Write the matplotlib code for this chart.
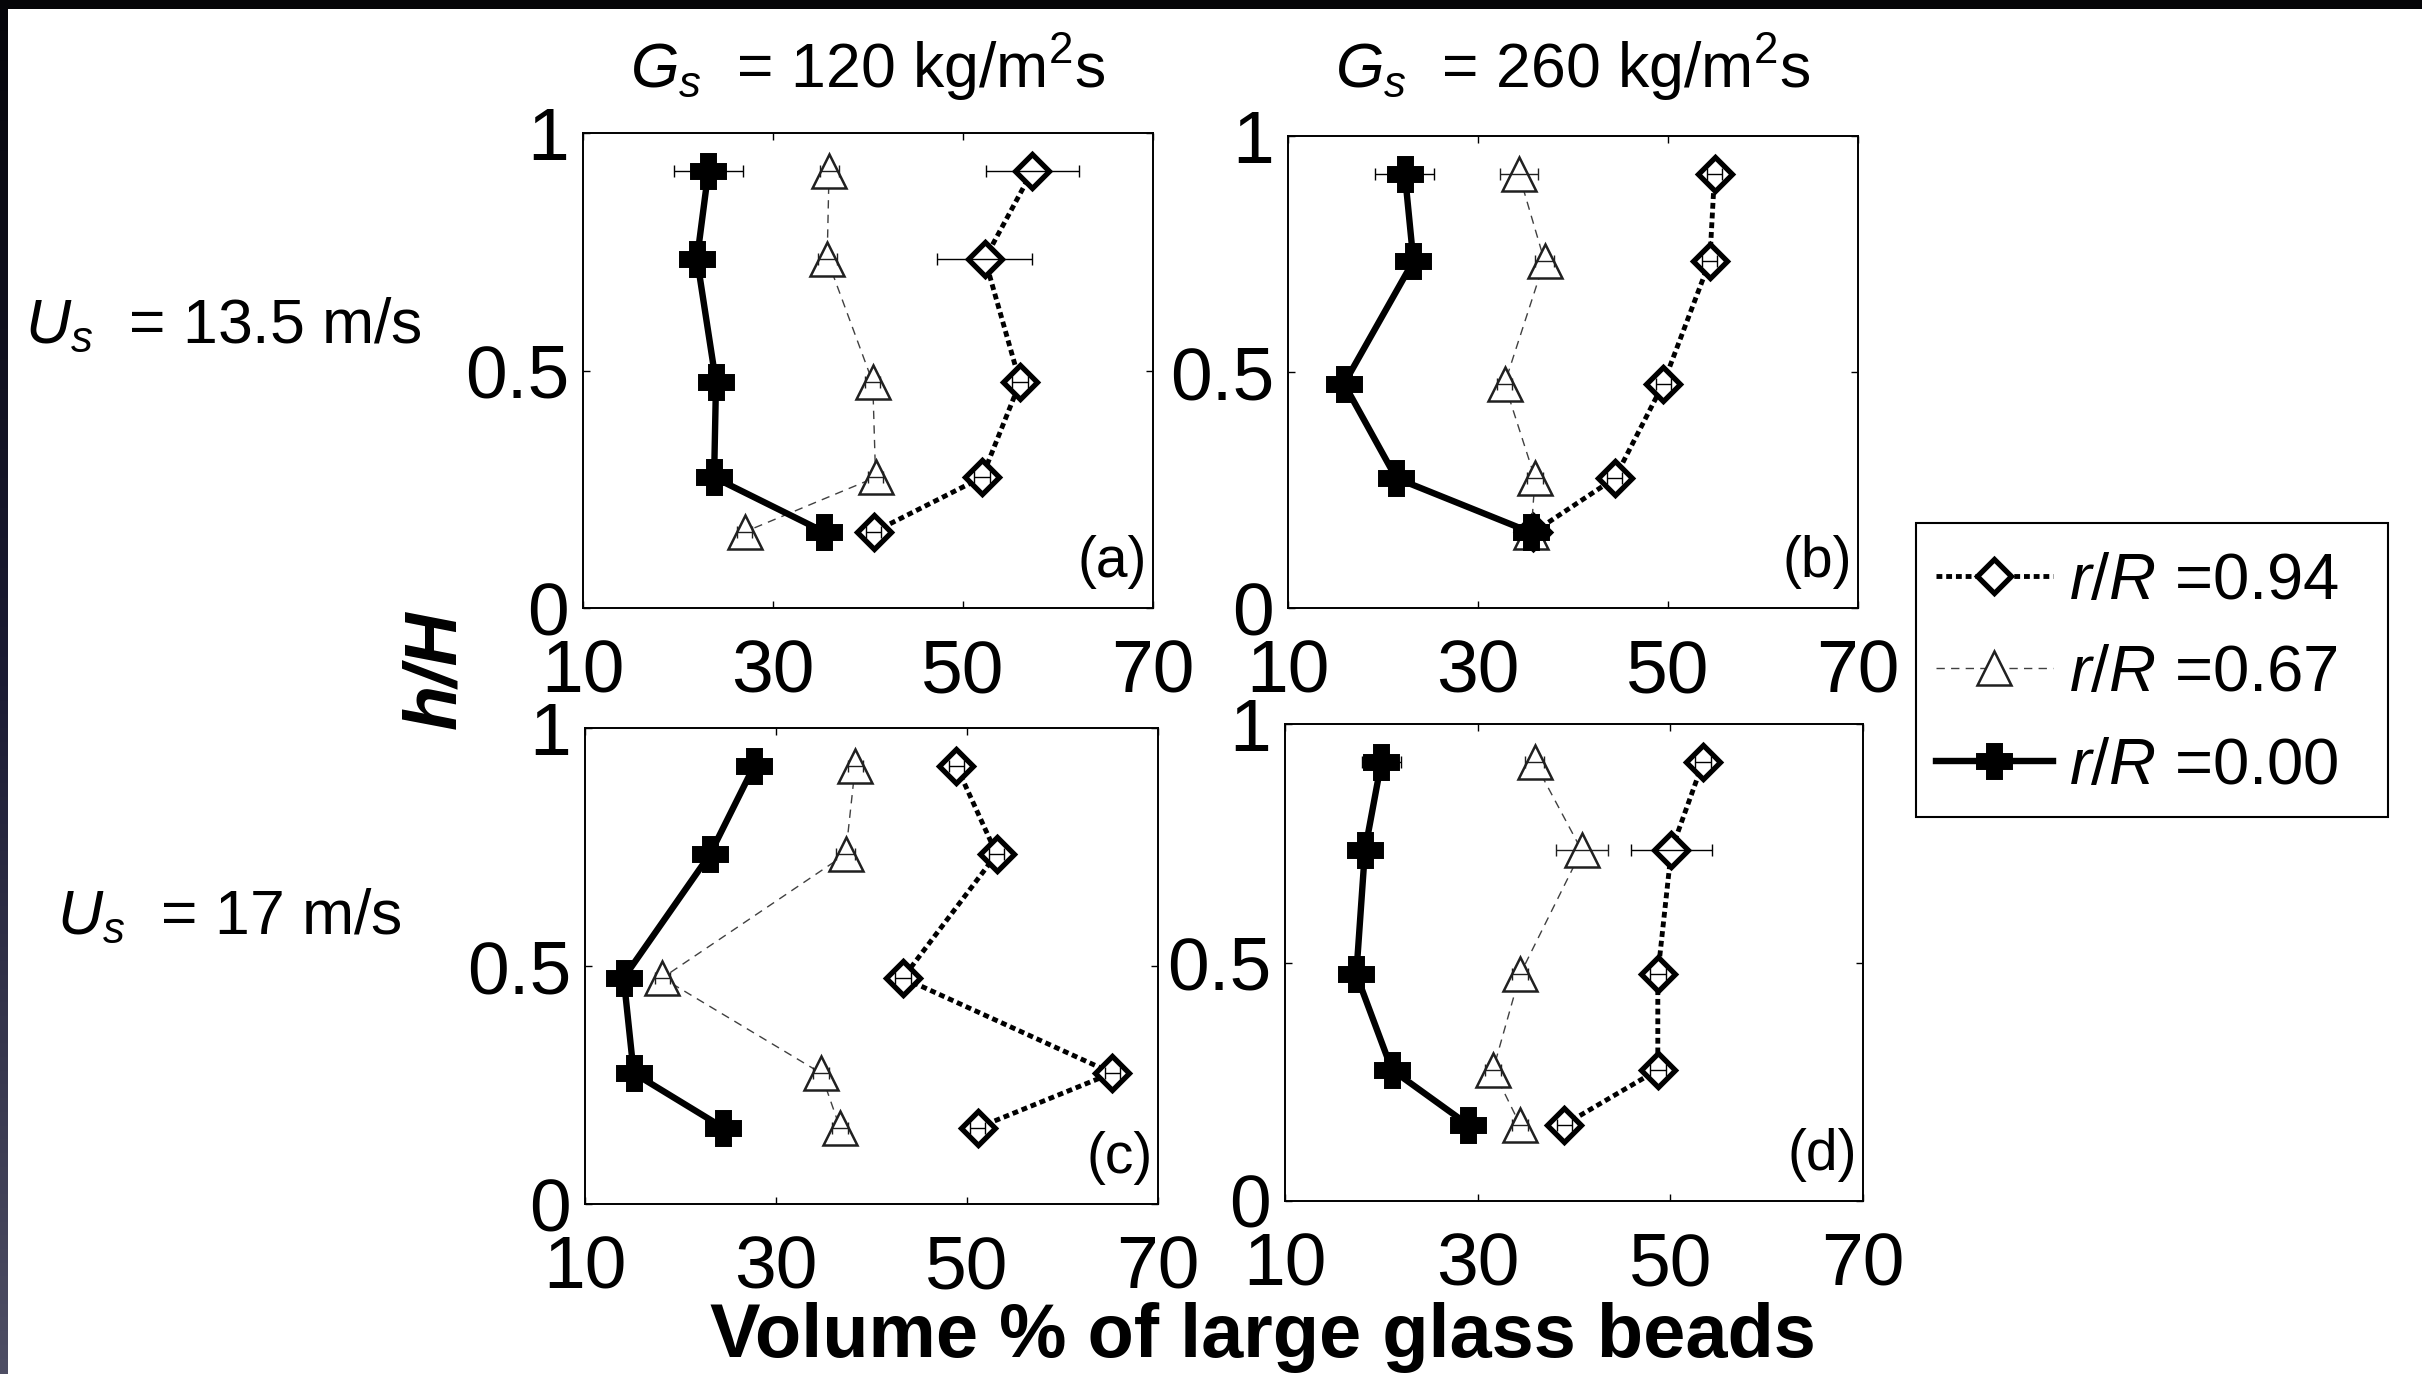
import numpy as np
import matplotlib
matplotlib.use('Agg')
import matplotlib.pyplot as plt
from matplotlib.patches import Rectangle

W, H = 2422, 1374

plt.rcParams['font.family'] = ['Liberation Sans', 'DejaVu Sans']
plt.rcParams['mathtext.fontset'] = 'custom'
plt.rcParams['mathtext.rm'] = 'Liberation Sans'
plt.rcParams['mathtext.it'] = 'Liberation Sans:italic'
plt.rcParams['mathtext.bf'] = 'Liberation Sans:bold'

# sampling heights h/H (same for every profile)
h_levels = [0.92, 0.735, 0.475, 0.275, 0.16]

radii = ['0.94', '0.67', '0.00']

# volume % of large glass beads, panel (a): Gs=120, Us=13.5
a_x = {'0.94': [57.3, 52.3, 56.0, 52.0, 40.6],
       '0.67': [35.9, 35.7, 40.5, 40.8, 27.0],
       '0.00': [23.2, 22.0, 24.0, 23.8, 35.4]}
a_err = {'0.94': [4.9, 5.0, 0.8, 0.8, 0.8],
         '0.67': [1.0, 1.0, 0.8, 0.8, 0.8],
         '0.00': [3.6, 1.0, 0.8, 0.8, 0.8]}

# panel (b): Gs=260, Us=13.5
b_x = {'0.94': [54.9, 54.4, 49.5, 44.4, 35.8],
       '0.67': [34.3, 37.0, 32.8, 36.0, 35.6],
       '0.00': [22.3, 23.2, 15.9, 21.4, 35.6]}
b_err = {'0.94': [0.8, 0.8, 0.8, 0.8, 0.8],
         '0.67': [2.0, 1.0, 0.8, 0.8, 0.8],
         '0.00': [3.1, 0.8, 0.8, 0.8, 0.8]}

# panel (c): Gs=120, Us=17
c_x = {'0.94': [48.9, 53.1, 43.3, 65.2, 51.1],
       '0.67': [38.3, 37.3, 18.1, 34.7, 36.7],
       '0.00': [27.7, 23.1, 14.05, 15.1, 24.5]}
c_err = {'0.94': [0.8, 0.8, 0.8, 0.8, 0.8],
         '0.67': [0.8, 1.0, 0.8, 0.8, 0.8],
         '0.00': [0.8, 0.8, 0.8, 0.8, 0.8]}

# panel (d): Gs=260, Us=17
d_x = {'0.94': [53.4, 50.1, 48.7, 48.7, 39.0],
       '0.67': [35.9, 40.8, 34.4, 31.6, 34.4],
       '0.00': [20.0, 18.3, 17.4, 21.1, 29.0]}
d_err = {'0.94': [0.8, 4.2, 0.8, 0.8, 0.8],
         '0.67': [1.0, 2.7, 0.8, 0.8, 0.8],
         '0.00': [2.0, 0.8, 0.8, 0.8, 0.8]}

x_ticks = [10, 30, 50, 70]
y_ticks = [0, 0.5, 1]
y_ticklabels = ['0', '0.5', '1']

styles = {
    '0.94': dict(color='black', lw=3.5, ls=(0, (1.2, 0.8)), marker='D', ms=17,
                 mfc='white', mec='black', mew=3.8),
    '0.67': dict(color='#404040', lw=1.0, ls=(0, (6, 4.5)), marker='^', ms=24,
                 mfc='white', mec='#202020', mew=1.8),
    '0.00': dict(color='black', lw=4.6, ls='-', marker='P', ms=21,
                 mfc='black', mec='black', mew=5),
}

# axes boxes in pixels: left, top, right, bottom
panels = [
    ('(a)', a_x, a_err, (583, 133, 1153, 608)),
    ('(b)', b_x, b_err, (1288, 136, 1858, 608)),
    ('(c)', c_x, c_err, (585, 728, 1158, 1204)),
    ('(d)', d_x, d_err, (1285, 724, 1863, 1201)),
]

fig = plt.figure(figsize=(W / 100, H / 100), dpi=100)
fig.patch.set_facecolor('white')

handles = []
for tag, xs, errs, (l, t, r, b) in panels:
    ax = fig.add_axes([l / W, 1 - b / H, (r - l) / W, (b - t) / H])
    lines = []
    for rad in radii:
        st = styles[rad]
        ln, = ax.plot(xs[rad], h_levels, color=st['color'], lw=st['lw'], ls=st['ls'],
                      marker=st['marker'], ms=st['ms'], mfc=st['mfc'], mec=st['mec'],
                      mew=st['mew'], label=r'$r/R$ =' + rad, zorder=3)
        ax.errorbar(xs[rad], h_levels, xerr=errs[rad], fmt='none', ecolor=st['mec'],
                    elinewidth=1.0, capsize=4, capthick=1.0, zorder=3)
        lines.append(ln)
    if not handles:
        handles = lines
    ax.set_xlim(10, 70)
    ax.set_ylim(0, 1)
    ax.set_xticks(x_ticks)
    ax.set_yticks(y_ticks)
    ax.set_yticklabels(y_ticklabels)
    ax.tick_params(direction='in', top=True, right=True, length=5, width=1,
                   labelsize=54)
    ax.tick_params(axis='x', pad=22)
    ax.tick_params(axis='y', pad=10)
    for sp in ax.spines.values():
        sp.set_linewidth(1.4)
    ax.text(0.99, 0.065, tag, transform=ax.transAxes, ha='right', va='baseline',
            fontsize=41)

# legend box drawn on its own so the padding can be set freely
fig.add_artist(Rectangle((1916 / W, 1 - 817 / H), (2388 - 1916) / W, (817 - 523) / H,
                         transform=fig.transFigure, facecolor='white',
                         edgecolor='black', lw=1.5, zorder=5))
leg = fig.legend(handles, [h.get_label() for h in handles], loc='upper left',
                 bbox_to_anchor=(1916 / W, 1 - 532 / H), bbox_transform=fig.transFigure,
                 fontsize=47, frameon=False, borderaxespad=0, borderpad=0.3,
                 handlelength=1.8, handletextpad=0.25, labelspacing=0.5)
leg.set_zorder(6)

# column / row headings and shared axis labels
fig.text(868 / W, 1 - 88 / H, r'$G_s$  = 120 kg/m$^2$s', fontsize=45, ha='center', va='baseline')
fig.text(1573 / W, 1 - 88 / H, r'$G_s$  = 260 kg/m$^2$s', fontsize=45, ha='center', va='baseline')
fig.text(25 / W, 1 - 343 / H, r'$U_s$  = 13.5 m/s', fontsize=45, ha='left', va='baseline')
fig.text(57 / W, 1 - 934 / H, r'$U_s$  = 17 m/s', fontsize=45, ha='left', va='baseline')
fig.text(436 / W, 1 - 670 / H, 'h/H', fontsize=53, fontweight='bold', style='italic',
         rotation=90, ha='center', va='center')
fig.text(1263 / W, 1 - 1357 / H, 'Volume % of large glass beads', fontsize=54.5,
         fontweight='bold', ha='center', va='baseline')

# dark frame along the top and left edges
fig.add_artist(Rectangle((0, 1 - 9 / H), 1, 9 / H, transform=fig.transFigure,
                         facecolor='#050508', edgecolor='none', zorder=10))
strip = fig.add_axes([0, 0, 8 / W, 1])
stops = np.array([[5, 5, 10], [28, 28, 52], [78, 78, 100]]) / 255
t = np.linspace(0, 1, 400)
grad = np.stack([np.interp(t, [0, 0.5, 1], stops[:, k]) for k in range(3)], axis=-1)
strip.imshow(grad[:, None, :], aspect='auto', interpolation='bilinear')
strip.axis('off')

fig.savefig('out.png', dpi=100)
